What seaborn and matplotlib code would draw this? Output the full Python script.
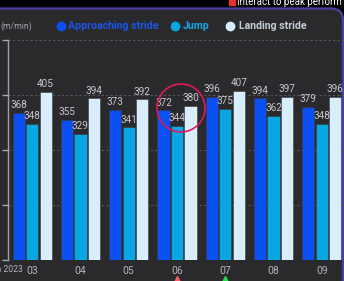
import pandas as pd
import numpy as np
import matplotlib
matplotlib.use("Agg")
import matplotlib.pyplot as plt
import seaborn as sns
from matplotlib.patches import FancyBboxPatch, Circle
from matplotlib.lines import Line2D
from matplotlib.transforms import IdentityTransform, blended_transform_factory

# data
months = ["03", "04", "05", "06", "07", "08", "09"]
approaching = [368, 355, 373, 372, 396, 394, 379]
jump = [348, 329, 341, 344, 375, 362, 348]
landing = [405, 394, 392, 380, 407, 397, 396]
series = ["Approaching stride", "Jump", "Landing stride"]
colors = ["#0a50f2", "#08a6e2", "#d8eefc"]
text_colors = ["#1a55e8", "#12a8e0", "#c4ccd6"]

df = pd.DataFrame({
    "month": months * 3,
    "series": [series[0]] * 7 + [series[1]] * 7 + [series[2]] * 7,
    "value": approaching + jump + landing,
})

sns.set_theme(style="dark")
plt.rcParams["font.family"] = ["Roboto", "DejaVu Sans"]

fig = plt.figure(figsize=(3.44, 2.81), dpi=100, facecolor="black")

# dark panel with purple border
panel = FancyBboxPatch((-30, -30), 373, 302.5, boxstyle="round,pad=0,rounding_size=12",
                       transform=IdentityTransform(), facecolor="#2a2a2d",
                       edgecolor="#4a3fa6", linewidth=1.6, zorder=-1)
fig.patches.append(panel)

ax = fig.add_axes([8 / 344, 21 / 281, 338 / 344, 220 / 281])
ax.set_facecolor("none")

sns.barplot(data=df, x="month", y="value", hue="series", palette=colors,
            width=0.84, gap=0.1, ax=ax, legend=False, saturation=1,
            edgecolor="#3a3a3e", linewidth=0.4)

for c in ax.containers:
    ax.bar_label(c, fontsize=7.2, color="#c8c8ce", padding=2)

ax.set_xlim(-0.5, 6.5)
ax.set_ylim(100, 500)
ax.set_yticks([100, 200, 300, 400, 500])
ax.set_xlabel("")
ax.set_ylabel("")
ax.yaxis.grid(True, color="#56565c", linestyle=(0, (2, 2)), linewidth=0.8)
ax.xaxis.grid(False)
ax.set_axisbelow(True)
for s in ["top", "right", "bottom"]:
    ax.spines[s].set_visible(False)
ax.spines["left"].set_color("#a0a0a6")
ax.spines["left"].set_linewidth(1)
ax.tick_params(axis="y", colors="#a8a8ae", labelsize=7, length=4, width=1, pad=1.2, left=True)
ax.tick_params(axis="x", colors="#b4b4ba", labelsize=7.5, length=0, pad=4.5)

# legend
legend_y = 1 - 26 / 281
for xd, xt, lab, col, tcol in zip([61, 175, 230], [68, 183, 239], series, colors, text_colors):
    fig.add_artist(Line2D([xd / 344], [legend_y], marker="o", markersize=6,
                          color=col, linestyle="none", transform=fig.transFigure))
    fig.text(xt / 344, legend_y, lab, color=tcol, fontsize=7.6, fontweight="bold", va="center")

fig.text(0 / 344, legend_y, "(m/min)", color="#a4a4aa", fontsize=6.2, va="center")
fig.text(23 / 344, 1 - 270 / 281, "Jan 2023", color="#b4b4ba", fontsize=6.2, va="center", ha="right")

# top banner text
fig.add_artist(Line2D([232 / 344], [1 - 2 / 281], marker="s", markersize=4.5,
                      color="#e8302c", linestyle="none", transform=fig.transFigure))
fig.text(237 / 344, 1 - 1.5 / 281, "Interact to peak perform", color="white", fontsize=7, va="center")

# highlight circle around 06
fig.patches.append(Circle((181, 173), 24, transform=IdentityTransform(), fill=False,
                          edgecolor="#e0185c", linewidth=1.2, zorder=5))

# small markers under 06 and 07
trans = blended_transform_factory(ax.transData, ax.transAxes)
ax.plot([3], [-0.086], marker="^", color="#ff5a66", markersize=4, transform=trans, clip_on=False)
ax.plot([4], [-0.086], marker="^", color="#22e040", markersize=4, transform=trans, clip_on=False)

fig.savefig("out.png", dpi=100, facecolor="black")
